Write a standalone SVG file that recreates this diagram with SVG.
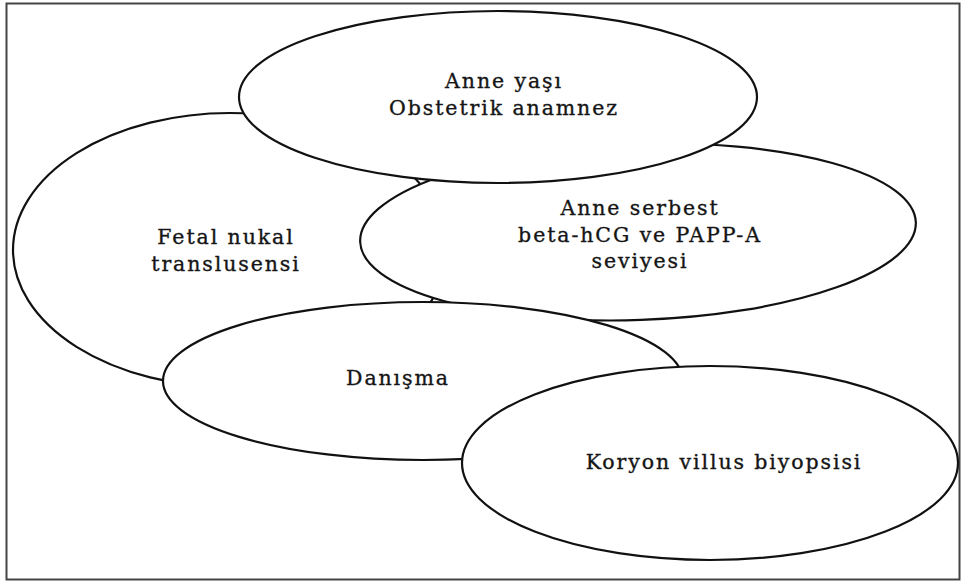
<svg xmlns="http://www.w3.org/2000/svg" width="962" height="584" viewBox="0 0 962 584">
<style>
.bub{fill:#fff;stroke:#111;stroke-width:2.2}
.t{font-family:"DejaVu Serif","Liberation Serif",serif;font-size:20.5px;letter-spacing:1.9px;fill:#151515;stroke:#151515;stroke-width:0.35;text-anchor:middle}
</style>
<rect x="0" y="0" width="962" height="584" fill="#fff"/>
<rect x="6.5" y="3.5" width="953" height="576" fill="none" stroke="#444" stroke-width="2"/>
<g id="connectors"></g>
<g id="node-fetal">
<ellipse class="bub" cx="230" cy="250" rx="217" ry="137"/>
<text class="t" x="226" y="244">Fetal nukal</text>
<text class="t" x="226" y="271">translusensi</text>
</g>
<g id="node-serum">
<ellipse class="bub" cx="638" cy="232" rx="278" ry="88" transform="rotate(-2 638 232)"/>
<text class="t" x="640" y="215">Anne serbest</text>
<text class="t" x="640" y="242">beta-hCG ve PAPP-A</text>
<text class="t" x="640" y="268">seviyesi</text>
</g>
<g id="node-age">
<ellipse class="bub" cx="498" cy="97" rx="259" ry="86"/>
<text class="t" x="504" y="88">Anne yaşı</text>
<text class="t" x="504" y="115">Obstetrik anamnez</text>
</g>
<g id="node-counsel">
<ellipse class="bub" cx="423" cy="381" rx="260" ry="79"/>
<text class="t" x="398" y="385">Danışma</text>
</g>
<g id="node-cvs">
<ellipse class="bub" cx="710" cy="463" rx="248" ry="97"/>
<text class="t" x="724" y="469">Koryon villus biyopsisi</text>
</g>
</svg>
